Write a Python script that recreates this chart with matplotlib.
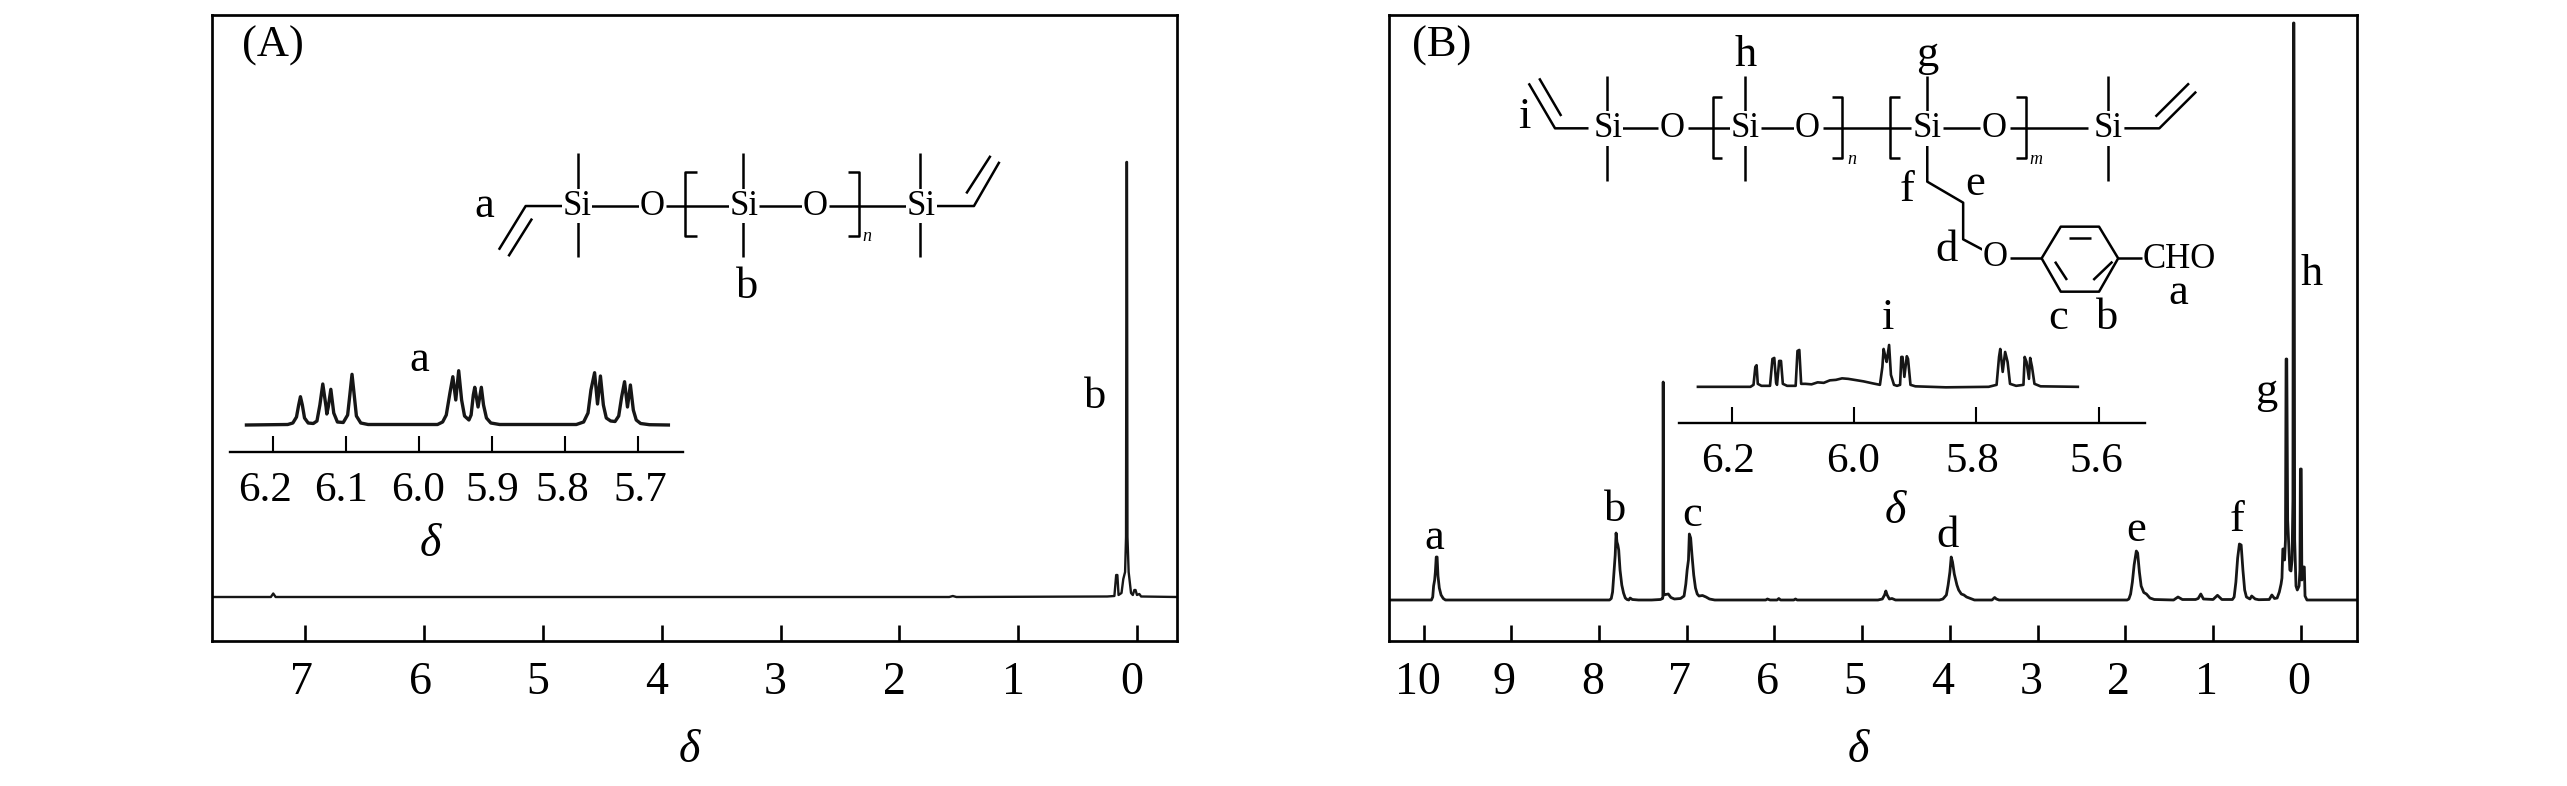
import matplotlib
matplotlib.use("Agg")
import matplotlib.pyplot as plt
from matplotlib.transforms import ScaledTranslation

plt.rcParams['font.family'] = ['Liberation Serif', 'DejaVu Serif']

W, H = 2567, 786
INK = '#161616'

# spectrum A: shift, height above baseline
a_ppm = [7.783, 7.29, 7.27, 7.25, 1.58, 1.55, 1.52, 0.25, 0.19, 0.175, 0.165, 0.155, 0.13, 0.115, 0.10,
         0.092, 0.088, 0.084, 0.08, 0.07, 0.05, 0.035, 0.022, 0.012, 0.0, -0.02, -0.035, -0.337]
a_int = [0, 0, 3.5, 0, 0, 1, 0, 0.5, 1, 22, 22, 2, 4, 18, 25,
         60, 435, 435, 60, 25, 4, 2, 7, 7, 2, 3, 0.5, 0]

# inset of A, vinyl region
ai_ppm = [6.2365, 6.18, 6.173, 6.168, 6.165, 6.1626, 6.16, 6.157, 6.152, 6.145, 6.14, 6.136, 6.132, 6.1275, 6.1265,
          6.1245, 6.121, 6.117, 6.112, 6.104, 6.098, 6.095, 6.092, 6.089, 6.086, 6.08, 6.07, 5.975, 5.968, 5.963,
          5.958, 5.954, 5.95, 5.946, 5.942, 5.938, 5.932, 5.929, 5.926, 5.924, 5.9195, 5.915, 5.912, 5.908, 5.902,
          5.89, 5.785, 5.775, 5.769, 5.765, 5.76, 5.756, 5.752, 5.748, 5.744, 5.738, 5.732, 5.727, 5.723, 5.719,
          5.715, 5.711, 5.707, 5.703, 5.697, 5.685, 5.659]
ai_int = [0, 0.5, 2, 8, 20, 28.3, 20, 7, 2, 1.5, 4, 20, 41, 18, 11,
          18, 35.7, 12, 3, 2.5, 10, 30, 50.7, 30, 9, 2, 0.5, 0.5, 3, 10,
          32, 48.3, 25, 54.3, 25, 9, 5, 10, 30, 37.7, 18, 37.7, 20, 7, 2,
          0.5, 0.5, 3, 12, 35, 52.3, 21, 49, 20, 7, 4, 3.5, 9, 28, 43.3,
          18, 40, 15, 5, 1.5, 0.3, 0]

# spectrum B
b_ppm = [10.39, 9.91, 9.895, 9.885, 9.873, 9.865, 9.855, 9.845, 9.835, 9.82, 9.8, 9.775, 9.75,
         7.88, 7.86, 7.845, 7.83, 7.815, 7.805, 7.795, 7.785, 7.775, 7.76, 7.74, 7.72, 7.7, 7.68, 7.66, 7.645, 7.62,
         7.55, 7.4, 7.3, 7.275, 7.272, 7.268, 7.262, 7.24, 7.21, 7.18, 7.14, 7.07, 7.03, 7.01, 6.995, 6.98, 6.97,
         6.955, 6.94, 6.92, 6.9, 6.88, 6.86, 6.82, 6.78, 6.74, 6.68, 6.1, 6.08, 6.05, 5.97, 5.95, 5.93, 5.78, 5.76,
         5.74, 4.82, 4.77, 4.745, 4.73, 4.715, 4.69, 4.66, 4.62, 4.12, 4.08, 4.04, 4.02, 4.0, 3.985, 3.97, 3.95, 3.92,
         3.9, 3.87, 3.84, 3.81, 3.78, 3.72, 3.52, 3.49, 3.47, 3.44, 1.98, 1.96, 1.94, 1.92, 1.9, 1.875, 1.86, 1.84,
         1.82, 1.79, 1.76, 1.72, 1.67, 1.45, 1.4, 1.35, 1.2, 1.17, 1.14, 1.11, 1.0, 0.95, 0.9, 0.78, 0.76, 0.74, 0.72,
         0.7, 0.68, 0.66, 0.64, 0.62, 0.58, 0.56, 0.52, 0.48, 0.36, 0.33, 0.3, 0.27, 0.245, 0.225, 0.215, 0.205, 0.195,
         0.185, 0.175, 0.168, 0.16, 0.15, 0.125, 0.112, 0.1, 0.09, 0.084, 0.078, 0.07, 0.055, 0.04, 0.02, 0.01, 0.005,
         -0.005, -0.012, -0.028, -0.04, -0.048, -0.07, -0.637]
b_int = [0, 0, 3, 14, 20, 28, 43, 43, 24, 12, 5, 1.5, 0,
         0, 1.5, 8, 26, 45, 67, 58, 55, 50, 30, 15, 7, 2, 0.5, 0, 2, 0.5,
         0, 0, 0.5, 1.5, 3, 218, 5, 5.5, 6, 2.5, 1, 1.5, 4, 16, 30, 40, 66,
         62, 45, 25, 12, 6, 4, 4.5, 3, 1, 0, 0, 1, 0, 0, 1.5, 0, 0, 1,
         0, 0, 1, 5, 9, 5, 1, 1.5, 0, 0, 1, 5, 15, 28, 43, 38, 26, 15,
         10, 6, 5, 3, 2, 0, 0, 2.5, 1, 0, 0, 1, 6, 18, 35, 49, 47, 28,
         14, 7.5, 6, 2, 0.5, 0, 3, 0.5, 0.5, 1.5, 6, 1, 0.5, 4.7, 0.5, 0.5, 3, 18, 42,
         56, 55, 30, 10, 3, 1, 4, 1, 0.3, 0.5, 5, 1.5, 2, 8, 16, 22, 51, 51,
         40, 60, 241, 241, 80, 30, 29, 40, 100, 577, 577, 60, 14, 10, 14, 30, 131,
         131, 20, 33, 33, 4, 0, 0]

# inset of B, vinyl region
bi_ppm = [6.256, 6.17, 6.165, 6.162, 6.16, 6.158, 6.152, 6.138, 6.134, 6.131, 6.128, 6.1265, 6.123, 6.12, 6.117,
          6.11, 6.096, 6.093, 6.09, 6.087, 6.08, 6.07, 6.06, 6.05, 6.04, 6.03, 6.02, 6.01, 6.0, 5.985,
          5.97, 5.958, 5.954, 5.952, 5.949, 5.947, 5.943, 5.94, 5.935, 5.93, 5.925, 5.923, 5.921, 5.918, 5.914,
          5.912, 5.908, 5.9, 5.85, 5.78, 5.767, 5.763, 5.761, 5.757, 5.753, 5.749, 5.745, 5.735, 5.723, 5.721,
          5.718, 5.714, 5.712, 5.709, 5.705, 5.695, 5.634]
bi_int = [0, 0, 2, 20, 21.7, 3, 1, 1, 28, 29, 4, 2, 26, 26, 3,
          1, 1, 36, 37, 3, 3, 2.5, 4.5, 4, 6.5, 7, 8.5, 8, 7, 5.5,
          3.5, 2, 20, 38, 30, 25, 42, 12, 2, 1, 2, 30, 30, 10, 30.7,
          28, 2, 0.5, -0.5, 0, 2, 30, 38, 15, 35, 25, 3, 1, 2, 30,
          25, 8, 29, 20, 3, 0.5, 0]

a_ticks = [7, 6, 5, 4, 3, 2, 1, 0]
b_ticks = [10, 9, 8, 7, 6, 5, 4, 3, 2, 1, 0]
ai_ticks = [6.2, 6.1, 6.0, 5.9, 5.8, 5.7]
bi_ticks = [6.2, 6.0, 5.8, 5.6]

# structure drawings, in zoomed reference coords
chain_a = [
    [(592, 305), (592, 385)], [(592, 440), (592, 512)], [(570, 410), (510, 410), (468, 497)], [(520, 435), (483, 510)],
    [(612, 410), (688, 410)], [(730, 410), (830, 410)], [(778, 342), (760, 342), (760, 470), (778, 470)],
    [(850, 305), (850, 385)], [(850, 440), (850, 512)], [(875, 410), (945, 410)], [(985, 410), (1108, 410)],
    [(1015, 342), (1032, 342), (1032, 470), (1015, 470)], [(1128, 305), (1128, 385)], [(1128, 440), (1128, 512)],
    [(1150, 410), (1212, 410), (1252, 322)], [(1200, 385), (1238, 310)],
]
chain_b = [
    [(185, 325), (115, 325), (60, 190)], [(128, 288), (82, 175)], [(224, 168), (224, 290)], [(224, 370), (224, 482)],
    [(255, 325), (330, 325)], [(392, 325), (485, 325)], [(465, 230), (445, 230), (445, 413), (465, 413)],
    [(513, 168), (513, 290)], [(513, 370), (513, 482)], [(545, 325), (615, 325)], [(675, 325), (860, 325)],
    [(693, 230), (715, 230), (715, 413), (693, 413)], [(835, 230), (815, 230), (815, 413), (835, 413)],
    [(893, 168), (893, 290)], [(893, 365), (893, 485), (968, 548), (968, 658), (1010, 690)],
    [(925, 325), (1003, 325)], [(1065, 325), (1228, 325)], [(1078, 230), (1100, 230), (1100, 413), (1078, 413)],
    [(1270, 168), (1270, 290)], [(1270, 370), (1270, 482)], [(1305, 325), (1378, 325), (1455, 215)],
    [(1370, 290), (1440, 190)], [(1065, 715), (1132, 715)],
    [(1132, 715), (1172, 620), (1252, 620), (1292, 715), (1252, 815), (1172, 815), (1132, 715)],
    [(1190, 655), (1235, 655)], [(1160, 725), (1185, 780)], [(1280, 725), (1240, 780)], [(1292, 715), (1342, 715)],
]
atoms_a = [('Si', 590, 410), ('O', 708, 410), ('Si', 852, 410), ('O', 963, 410), ('Si', 1130, 410)]
atoms_b = [('Si', 225, 325), ('O', 360, 325), ('Si', 512, 325), ('O', 642, 325), ('Si', 893, 325), ('O', 1033, 325),
           ('Si', 1270, 325), ('O', 1035, 712), ('CHO', 1420, 717)]


def px_axes(fig, left, right, top, bottom):
    return fig.add_axes([left / W, 1 - bottom / H, (right - left) / W, (bottom - top) / H])


def nudge(labels, offsets, fig):
    for lab, dx in zip(labels, offsets):
        lab.set_transform(lab.get_transform() + ScaledTranslation(dx / 100, 0, fig.dpi_scale_trans))


def main_panel(fig, frame, xlim, ylim, ppm, inten, ticks, offsets, lw):
    ax = px_axes(fig, *frame)
    ax.plot(ppm, inten, color=INK, lw=lw, solid_joinstyle='round')
    ax.set_xlim(*xlim)
    ax.set_ylim(*ylim)
    ax.set_yticks([])
    ax.set_xticks(ticks)
    ax.set_xticklabels([str(t) for t in ticks], fontsize=33)
    ax.tick_params(axis='x', direction='in', length=11.5, width=1.9, pad=15)
    for s in ax.spines.values():
        s.set_linewidth(1.95)
    nudge(ax.get_xticklabels(), offsets, fig)
    return ax


def inset_panel(fig, frame, xlim, ylim, ppm, inten, ticks, fmt, offsets, lw):
    ax = px_axes(fig, *frame)
    ax.patch.set_alpha(0)
    ax.plot(ppm, inten, color=INK, lw=lw, solid_joinstyle='round')
    ax.set_xlim(*xlim)
    ax.set_ylim(*ylim)
    ax.set_yticks([])
    ax.set_xticks(ticks)
    ax.set_xticklabels([fmt % t for t in ticks], fontsize=31)
    ax.tick_params(axis='x', direction='in', length=11.5, width=1.5, pad=14)
    for name in ['top', 'left', 'right']:
        ax.spines[name].set_visible(False)
    ax.spines['bottom'].set_linewidth(1.7)
    nudge(ax.get_xticklabels(), offsets, fig)
    return ax


def draw_structure(ov, bonds, atoms, x0, y0, kx, ky, lw=1.8, size=25):
    for bond in bonds:
        ov.plot([x0 + p[0] / kx for p in bond], [y0 + p[1] / ky for p in bond], color='black', lw=lw,
                solid_capstyle='butt', zorder=2)
    for name, x, y in atoms:
        ov.text(x0 + x / kx, y0 + y / ky, name, fontsize=size, ha='center', va='center', zorder=3,
                bbox=dict(facecolor='white', edgecolor='none', pad=0.5) if name != 'CHO' else None)


fig = plt.figure(figsize=(W / 100, H / 100), dpi=100, facecolor='white')

main_panel(fig, (212.3, 1177, 14.5, 641), (7.783, -0.337), (-44, 582.5), a_ppm, a_int, a_ticks,
           [-4, -4, -5, -5, -5, -5, -5, -5], 1.7)
main_panel(fig, (1389.3, 2356.7, 14.5, 641), (10.39, -0.637), (-41, 585.5), b_ppm, b_int, b_ticks,
           [-6, -7, -6, -7, -7, -7, -7, -7, -7, -7, -2], 2.0)
inset_panel(fig, (230, 683, 360, 452), (6.259, 5.639), (-27, 65), ai_ppm, ai_int, ai_ticks, '%.1f',
            [-8, -5, -1, 0, -3, 2], 2.4)
inset_panel(fig, (1679, 2145, 337, 423.3), (6.287, 5.524), (-36.6, 50), bi_ppm, bi_int, bi_ticks, '%.1f',
            [-4, -1, -4, -2], 1.9)

ov = fig.add_axes([0, 0, 1, 1], xlim=(0, W), ylim=(H, 0))
ov.axis('off')
ov.patch.set_alpha(0)

draw_structure(ov, chain_a, atoms_a, 200, 0, 1.566, 1.99)
draw_structure(ov, chain_b, atoms_b, 1500, 20, 2.09, 3.0)

# panel letters and peak assignments
letters = [('(A)', 273, 46), ('(B)', 1442, 46),
           ('a', 484, 206), ('b', 747, 287), ('a', 419, 360), ('b', 1095, 397),
           ('a', 1434, 538), ('b', 1615, 510), ('c', 1692, 515), ('d', 1948, 536), ('e', 2136, 530), ('f', 2237, 520),
           ('g', 2266, 392), ('h', 2312, 274),
           ('h', 1746, 55), ('g', 1927, 55), ('i', 1524, 117), ('f', 1907, 190), ('e', 1975, 184), ('d', 1947, 250),
           ('a', 2178, 293), ('b', 2107, 318), ('c', 2058, 318), ('i', 1887, 318)]
for s, x, y in letters:
    ov.text(x, y, s, fontsize=32, ha='center', va='center')

ov.text(1500 + 735 / 2.09, 20 + 418 / 3.0, 'n', fontsize=13, style='italic', ha='center', va='center')
ov.text(1500 + 1120 / 2.09, 20 + 418 / 3.0, 'm', fontsize=13, style='italic', ha='center', va='center')
ov.text(200 + 1045 / 1.566, 470 / 1.99, 'n', fontsize=13, style='italic', ha='center', va='center')

for x, y in [(689, 751), (1858, 751), (430, 545), (1895, 512)]:
    ov.text(x, y, '\u03b4', fontsize=33, style='italic', ha='center', va='center')

fig.savefig('out.png', dpi=100)
